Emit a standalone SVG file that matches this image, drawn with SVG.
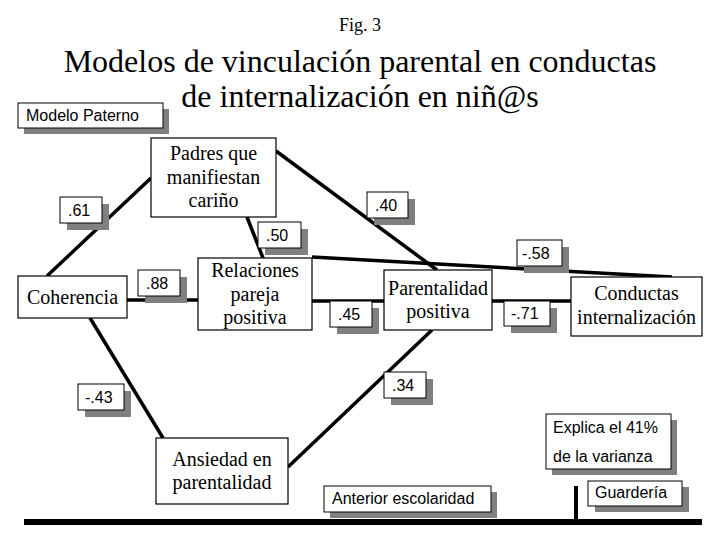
<svg xmlns="http://www.w3.org/2000/svg" width="720" height="540" viewBox="0 0 720 540">
<style>
.node{fill:#fff;stroke:#000;stroke-width:1.2}
.lbl{fill:#fff;stroke:#000;stroke-width:1}
.sh{fill:#808080}
.serif{font-family:"Liberation Serif","Times New Roman",serif;fill:#000}
.nt{font-size:20px;text-anchor:middle}
.sans{font-family:"Liberation Sans",Arial,sans-serif;font-size:16px;fill:#000}
.conn line{stroke:#000;stroke-width:3.5;stroke-linecap:butt}
</style>
<rect width="720" height="540" fill="#fff"/>
<g id="title">
<text class="serif" x="360" y="31" font-size="18" text-anchor="middle">Fig. 3</text>
<text class="serif" x="360" y="72" font-size="32" text-anchor="middle">Modelos de vinculación parental en conductas</text>
<text class="serif" x="360" y="107" font-size="32" text-anchor="middle">de internalización en niñ@s</text>
</g>
<g id="connectors" class="conn">
<line x1="151" y1="178" x2="47" y2="276"/>
<line x1="247" y1="217" x2="263" y2="258"/>
<line x1="276" y1="151" x2="437" y2="270"/>
<line x1="312" y1="257" x2="672" y2="277"/>
<line x1="127" y1="300" x2="198" y2="300"/>
<line x1="312" y1="301" x2="384" y2="301"/>
<line x1="492" y1="301" x2="571" y2="301"/>
<line x1="90" y1="318" x2="163" y2="438"/>
<line x1="288" y1="467" x2="432" y2="330"/>
<rect x="24" y="519" width="678" height="6" fill="#000" stroke="none"/>
<rect x="574" y="486" width="4" height="34" fill="#000" stroke="none"/>
</g>
<g id="n-padres">
<rect class="node" x="151" y="138" width="125" height="79"/>
<text class="serif nt" x="213.5" y="160">Padres que</text>
<text class="serif nt" x="213.5" y="183.5">manifiestan</text>
<text class="serif nt" x="213.5" y="207">cariño</text>
</g>
<g id="n-coherencia">
<rect class="node" x="18" y="276" width="109" height="42"/>
<text class="serif nt" x="72.5" y="304">Coherencia</text>
</g>
<g id="n-relaciones">
<rect class="node" x="198" y="258" width="114" height="72"/>
<text class="serif nt" x="255" y="277">Relaciones</text>
<text class="serif nt" x="255" y="300.5">pareja</text>
<text class="serif nt" x="255" y="324">positiva</text>
</g>
<g id="n-parentalidad">
<rect class="node" x="384" y="270" width="108" height="60"/>
<text class="serif nt" x="438" y="295">Parentalidad</text>
<text class="serif nt" x="438" y="318">positiva</text>
</g>
<g id="n-conductas">
<rect class="node" x="571" y="277" width="131" height="59"/>
<text class="serif nt" x="636.5" y="300">Conductas</text>
<text class="serif nt" x="636.5" y="324">internalización</text>
</g>
<g id="n-ansiedad">
<rect class="node" x="156" y="438" width="132" height="66"/>
<text class="serif nt" x="222" y="466">Ansiedad en</text>
<text class="serif nt" x="222" y="489">parentalidad</text>
</g>
<g id="l-modelo">
<rect class="sh" x="24" y="109" width="145" height="25"/>
<rect class="lbl" x="18" y="103" width="145" height="25"/>
<text class="sans" x="26" y="121" font-size="15">Modelo Paterno</text>
</g>
<g id="l-61">
<rect class="sh" x="67" y="204" width="42" height="26"/>
<rect class="lbl" x="60" y="197" width="42" height="26"/>
<text class="sans" x="68" y="216">.61</text>
</g>
<g id="l-88">
<rect class="sh" x="145" y="277" width="42" height="26"/>
<rect class="lbl" x="138" y="270" width="42" height="26"/>
<text class="sans" x="146" y="289">.88</text>
</g>
<g id="l-50">
<rect class="sh" x="265" y="229" width="43" height="26"/>
<rect class="lbl" x="258" y="222" width="43" height="26"/>
<text class="sans" x="266" y="241">.50</text>
</g>
<g id="l-40">
<rect class="sh" x="374" y="199" width="41" height="26"/>
<rect class="lbl" x="367" y="192" width="41" height="26"/>
<text class="sans" x="375" y="211">.40</text>
</g>
<g id="l-58">
<rect class="sh" x="524" y="247" width="45" height="26"/>
<rect class="lbl" x="517" y="240" width="45" height="26"/>
<text class="sans" x="522" y="259">-.58</text>
</g>
<g id="l-45">
<rect class="sh" x="337" y="308" width="42" height="26"/>
<rect class="lbl" x="330" y="301" width="42" height="26"/>
<text class="sans" x="338" y="320">.45</text>
</g>
<g id="l-71">
<rect class="sh" x="511" y="308" width="46" height="25"/>
<rect class="lbl" x="504" y="301" width="46" height="25"/>
<text class="sans" x="511" y="319">-.71</text>
</g>
<g id="l-43">
<rect class="sh" x="85" y="391" width="46" height="26"/>
<rect class="lbl" x="78" y="384" width="46" height="26"/>
<text class="sans" x="85" y="403">-.43</text>
</g>
<g id="l-34">
<rect class="sh" x="391" y="379" width="42" height="26"/>
<rect class="lbl" x="384" y="372" width="42" height="26"/>
<text class="sans" x="392" y="391">.34</text>
</g>
<g id="l-explica">
<rect class="sh" x="552" y="420" width="125" height="55"/>
<rect class="lbl" x="546" y="414" width="125" height="55"/>
<text class="sans" x="553" y="433">Explica el 41%</text>
<text class="sans" x="553" y="462">de la varianza</text>
</g>
<g id="l-anterior">
<rect class="sh" x="330" y="492" width="167" height="26"/>
<rect class="lbl" x="324" y="486" width="167" height="26"/>
<text class="sans" x="332" y="504">Anterior escolaridad</text>
</g>
<g id="l-guarderia">
<rect class="sh" x="595" y="487" width="94" height="25"/>
<rect class="lbl" x="588" y="481" width="94" height="25"/>
<text class="sans" x="595" y="498">Guardería</text>
</g>
</svg>
